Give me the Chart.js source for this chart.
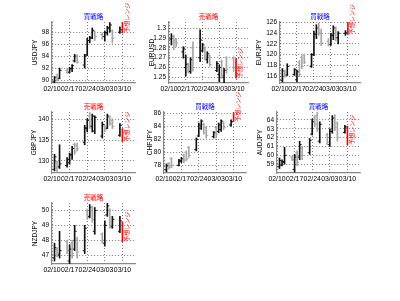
<!DOCTYPE html>
<html>
<head>
<meta charset="utf-8">
<script src="https://cdn.jsdelivr.net/npm/chart.js@4"></script>
<style>
  body { margin: 0; background: #fff; }
  #wrap { position: relative; width: 400px; height: 301px; overflow: hidden; }
  .box { position: absolute; }
</style>
</head>
<body>
<div id="wrap"></div>
<script>
// trading days counted from 02/10
const days = [1,2,3,6,7,8,9,10,13,14,15,16,17,20,21,22,23,24,27];
const tickDays = [0,7,14,21,28];
const tickLabels = ['02/10','02/17','02/24','03/03','03/10'];
const forecastDay = 28;

// USDJPY
const usdjpyOpen  = [89.7,90.5,90.3,91.6,91.3,91.9,93.2,94.0,92.5,94.2,96.6,97.1,98.1,97.6,97.3,97.9,98.7,98.2,98.0];
const usdjpyHigh  = [90.6,91.0,92.0,91.9,92.1,92.6,94.3,94.2,94.3,97.0,97.3,98.7,98.2,97.9,98.2,99.0,99.6,98.4,98.9];
const usdjpyLow   = [89.5,89.8,90.2,91.1,91.2,91.4,93.0,92.8,92.0,94.1,96.2,96.9,96.6,96.8,96.5,97.5,98.0,96.2,97.8];
const usdjpyClose = [90.4,90.1,91.6,91.3,91.9,92.4,94.0,93.0,94.0,96.6,97.0,98.3,97.3,97.2,97.9,98.7,99.2,97.0,98.4];
const usdjpyRange = [97.9, 99.6];
const usdjpyTicks = [90,92,94,96,98];

// EURUSD
const eurusdOpen  = [1.2890,1.2917,1.2880,1.2760,1.2600,1.2640,1.2560,1.2800,1.2700,1.2770,1.2800,1.2680,1.2720,1.2570,1.2530,1.2660,1.2500,1.2700,1.2690];
const eurusdHigh  = [1.2945,1.2930,1.2895,1.2812,1.2729,1.2645,1.2700,1.2862,1.2983,1.2847,1.2812,1.2761,1.2729,1.2660,1.2625,1.2676,1.2591,1.2710,1.2710];
const eurusdLow   = [1.2830,1.2780,1.2812,1.2695,1.2512,1.2545,1.2540,1.2562,1.2659,1.2761,1.2676,1.2645,1.2611,1.2557,1.2455,1.2489,1.2444,1.2540,1.2560];
const eurusdClose = [1.2917,1.2860,1.2850,1.2790,1.2630,1.2560,1.2680,1.2600,1.2880,1.2830,1.2700,1.2740,1.2630,1.2640,1.2600,1.2520,1.2570,1.2580,1.2600];
const eurusdRange = [1.2492, 1.2690];
const eurusdTicks = [1.25,1.26,1.27,1.28,1.29,1.30];

// EURJPY
const eurjpyOpen  = [115.2,117.0,116.2,116.3,115.3,118.5,119.5,119.9,117.8,120.0,123.8,125.1,124.0,122.5,121.9,123.6,124.8,123.2,124.0];
const eurjpyHigh  = [117.4,117.1,118.3,117.4,117.1,118.9,119.8,120.1,120.2,124.4,125.6,125.9,124.8,123.0,124.0,125.4,125.2,124.3,124.5];
const eurjpyLow   = [114.9,115.8,116.1,116.1,114.9,115.9,117.4,118.3,117.6,119.8,123.0,123.6,121.7,121.6,121.7,122.8,122.6,122.0,123.6];
const eurjpyClose = [117.0,116.2,117.8,117.2,116.8,116.3,117.8,118.6,120.0,123.8,125.0,124.0,122.2,121.9,123.6,125.0,123.0,124.0,124.1];
const eurjpyRange = [123.8, 126.0];
const eurjpyTicks = [116,118,120,122,124,126];

// GBPJPY
const gbpjpyOpen  = [128.0,129.8,128.6,128.9,129.6,131.5,134.0,133.8,134.5,137.8,140.8,138.3,137.2,136.0,138.4,137.9,140.6,139.8,136.2];
const gbpjpyHigh  = [131.6,130.0,133.9,130.8,131.9,133.5,134.3,134.3,138.6,140.2,141.7,141.3,140.9,139.4,138.6,141.3,140.9,140.2,139.0];
const gbpjpyLow   = [127.6,127.3,128.2,128.5,129.2,130.4,131.6,132.4,133.9,137.0,137.8,137.0,136.6,135.5,137.0,137.8,138.6,137.8,135.9];
const gbpjpyClose = [131.0,128.5,129.3,130.4,131.5,133.0,132.2,132.9,138.0,139.8,138.5,140.8,140.5,138.8,137.5,140.8,139.0,138.3,138.6];
const gbpjpyRange = [134.7, 137.8];
const gbpjpyTicks = [130,135,140];

// CHFJPY
const chfjpyOpen  = [77.3,78.3,79.0,78.0,78.6,79.5,80.0,80.7,80.4,82.5,83.7,84.3,83.8,82.4,83.8,83.2,83.5,84.5,84.2];
const chfjpyHigh  = [78.2,78.4,79.2,78.9,79.2,79.7,80.2,80.9,82.2,84.5,85.0,84.5,84.0,83.2,84.0,84.5,85.0,84.7,85.0];
const chfjpyLow   = [77.0,77.4,77.6,77.9,78.4,78.4,78.7,79.2,80.2,82.4,83.5,82.8,82.2,82.2,82.2,83.0,83.2,83.5,84.0];
const chfjpyClose = [77.9,77.7,78.0,78.7,79.0,78.8,79.0,79.5,82.0,84.2,84.8,83.0,82.6,83.0,82.8,84.2,84.8,83.8,84.7];
const chfjpyRange = [84.7, 86.1];
const chfjpyTicks = [78,80,82,84,86];

// AUDJPY
const audjpyOpen  = [58.7,58.9,59.2,59.8,58.4,60.3,59.8,60.8,60.3,62.4,64.3,64.5,61.6,62.3,61.2,62.7,64.3,63.6,62.6];
const audjpyHigh  = [59.7,59.5,60.9,59.9,60.1,60.5,61.6,61.0,61.9,64.1,64.5,64.9,63.8,62.5,63.0,64.5,64.6,63.8,63.4];
const audjpyLow   = [58.5,58.8,59.0,59.4,58.1,58.8,59.5,59.5,60.1,62.3,63.2,62.7,61.4,61.2,61.0,62.5,62.8,61.6,62.5];
const audjpyClose = [59.4,59.3,60.0,59.5,59.8,59.2,61.2,60.0,61.7,63.8,63.5,63.0,63.5,61.5,62.7,64.2,63.2,62.0,63.2];
const audjpyRange = [61.2, 63.3];
const audjpyTicks = [59,60,61,62,63,64];

// NZDJPY
const nzdjpyOpen  = [46.8,47.4,47.0,47.9,46.6,47.8,47.4,48.0,47.3,50.0,49.6,50.2,48.6,48.4,47.8,49.7,50.0,48.9,48.6];
const nzdjpyHigh  = [47.8,47.5,48.6,48.0,47.7,48.0,49.0,48.2,49.0,50.1,50.4,50.3,50.2,48.5,49.3,50.5,50.1,49.6,49.6];
const nzdjpyLow   = [46.6,46.9,46.8,47.1,46.4,46.8,47.3,46.8,47.1,49.4,49.5,49.2,48.4,47.8,47.6,49.6,48.8,48.8,48.5];
const nzdjpyClose = [47.5,47.1,47.3,47.3,47.4,47.1,48.6,47.2,48.8,49.5,50.2,49.4,50.0,48.0,49.0,50.3,49.0,49.4,49.3];
const nzdjpyRange = [47.9, 49.2];
const nzdjpyTicks = [47,48,49,50];

const BUY = '買戦略', SELL = '売戦略';

const panels = [
  { name: 'USDJPY', plan: BUY,  o: usdjpyOpen, h: usdjpyHigh, l: usdjpyLow, c: usdjpyClose, range: usdjpyRange, ticks: usdjpyTicks, ylim: [89.5, 99.7],   box: [52, 22, 135, 83],   yw: 21 },
  { name: 'EURUSD', plan: SELL, o: eurusdOpen, h: eurusdHigh, l: eurusdLow, c: eurusdClose, range: eurusdRange, ticks: eurusdTicks, ylim: [1.2442, 1.3064], box: [169, 22, 248, 83], yw: 21 },
  { name: 'EURJPY', plan: BUY,  o: eurjpyOpen, h: eurjpyHigh, l: eurjpyLow, c: eurjpyClose, range: eurjpyRange, ticks: eurjpyTicks, ylim: [114.7, 126.1], box: [280, 22, 360, 83], yw: 25 },
  { name: 'GBPJPY', plan: SELL, o: gbpjpyOpen, h: gbpjpyHigh, l: gbpjpyLow, c: gbpjpyClose, range: gbpjpyRange, ticks: gbpjpyTicks, ylim: [127.1, 141.8], box: [52, 112, 135, 173],  yw: 22 },
  { name: 'CHFJPY', plan: BUY,  o: chfjpyOpen, h: chfjpyHigh, l: chfjpyLow, c: chfjpyClose, range: chfjpyRange, ticks: chfjpyTicks, ylim: [76.8, 86.2],   box: [164, 112, 246, 173], yw: 18 },
  { name: 'AUDJPY', plan: BUY,  o: audjpyOpen, h: audjpyHigh, l: audjpyLow, c: audjpyClose, range: audjpyRange, ticks: audjpyTicks, ylim: [58.0, 64.9],   box: [277, 112, 360, 173], yw: 21 },
  { name: 'NZDJPY', plan: SELL, o: nzdjpyOpen, h: nzdjpyHigh, l: nzdjpyLow, c: nzdjpyClose, range: nzdjpyRange, ticks: nzdjpyTicks, ylim: [46.4, 50.5],   box: [52, 203, 135, 264],  yw: 21 },
];

const SANS = '"Liberation Sans", Arial, sans-serif';
const CJK = '"Noto Sans CJK JP", sans-serif';
const GRID = 'rgba(0,0,0,0.65)';

// title above the axes + rotated forecast label next to the range line
const extras = {
  id: 'extras',
  afterDatasetsDraw(chart, args, opts) {
    const { ctx, chartArea: a, scales: { x, y } } = chart;
    ctx.save();
    ctx.font = '6.5px ' + CJK;
    ctx.textBaseline = 'middle';
    ctx.textAlign = 'center';
    ctx.fillStyle = opts.plan === BUY ? '#0000ff' : '#ff0000';
    ctx.fillText(opts.plan, (a.left + a.right) / 2, a.top - 5.5);

    ctx.translate(x.getPixelForValue(forecastDay) + 4, y.getPixelForValue(opts.low));
    ctx.rotate(-Math.PI / 2);
    ctx.textAlign = 'left';
    ctx.fillStyle = '#ff0000';
    ctx.font = '6px ' + CJK;
    ctx.fillText('予想レンジ', 0, 0);
    ctx.restore();
  }
};

const wrap = document.getElementById('wrap');

panels.forEach(p => {
  const [L, T, R, B] = p.box;
  const padL = 4, padT = 24, padR = 18, xh = 12, padB = 2;
  const div = document.createElement('div');
  div.className = 'box';
  div.style.left = (L - p.yw - padL) + 'px';
  div.style.top = (T - padT) + 'px';
  div.style.width = (R - L + p.yw + padL + padR) + 'px';
  div.style.height = (B - T + padT + xh + padB) + 'px';
  const canvas = document.createElement('canvas');
  div.appendChild(canvas);
  wrap.appendChild(div);

  const colors = p.o.map((v, i) => p.c[i] >= v ? '#111111' : '#a6a6a6');

  new Chart(canvas, {
    type: 'bar',
    data: {
      datasets: [
        {
          label: 'range',
          data: days.map((d, i) => ({ x: d, y: [p.l[i], p.h[i]] })),
          backgroundColor: colors,
          barThickness: 1,
          grouped: false
        },
        {
          label: 'forecast',
          data: [{ x: forecastDay, y: p.range }],
          backgroundColor: '#ff0000',
          barThickness: 1,
          grouped: false
        },
        {
          type: 'scatter',
          label: 'open',
          data: days.map((d, i) => ({ x: d - 0.4, y: p.o[i] })),
          pointStyle: 'line',
          radius: 1,
          borderWidth: 1,
          borderColor: colors,
          backgroundColor: colors
        },
        {
          type: 'scatter',
          label: 'close',
          data: days.map((d, i) => ({ x: d + 0.4, y: p.c[i] })),
          pointStyle: 'line',
          radius: 1,
          borderWidth: 1,
          borderColor: colors,
          backgroundColor: colors
        }
      ]
    },
    options: {
      responsive: true,
      maintainAspectRatio: false,
      animation: false,
      events: [],
      layout: { padding: { left: padL, top: padT, right: padR, bottom: padB } },
      plugins: {
        legend: { display: false },
        tooltip: { enabled: false },
        extras: { plan: p.plan, low: p.range[0] }
      },
      scales: {
        x: {
          type: 'linear',
          min: 0,
          max: 33,
          offset: false,
          afterBuildTicks: ax => { ax.ticks = tickDays.map(v => ({ value: v })); },
          afterFit: ax => { ax.height = xh; },
          ticks: {
            autoSkip: false,
            maxRotation: 0,
            padding: 2,
            color: '#000',
            font: { family: SANS, size: 6.9 },
            callback: v => tickLabels[tickDays.indexOf(v)]
          },
          grid: { color: GRID, lineWidth: 0.8, drawTicks: false, offset: false },
          border: { color: '#888', width: 1.2, dash: [1, 2] }
        },
        y: {
          min: p.ylim[0],
          max: p.ylim[1],
          afterBuildTicks: ax => { ax.ticks = p.ticks.map(v => ({ value: v })); },
          afterFit: ax => { ax.width = p.yw; },
          ticks: {
            padding: 3,
            color: '#000',
            font: { family: SANS, size: 6.5 },
            callback: v => String(+v.toFixed(2))
          },
          grid: { color: GRID, lineWidth: 0.8, drawTicks: false },
          border: { color: '#888', width: 1.2, dash: [1, 2] },
          title: { display: true, text: p.name, color: '#000', padding: 0, font: { family: SANS, size: 6.5 } }
        }
      }
    },
    plugins: [extras]
  });
});
</script>
</body>
</html>
